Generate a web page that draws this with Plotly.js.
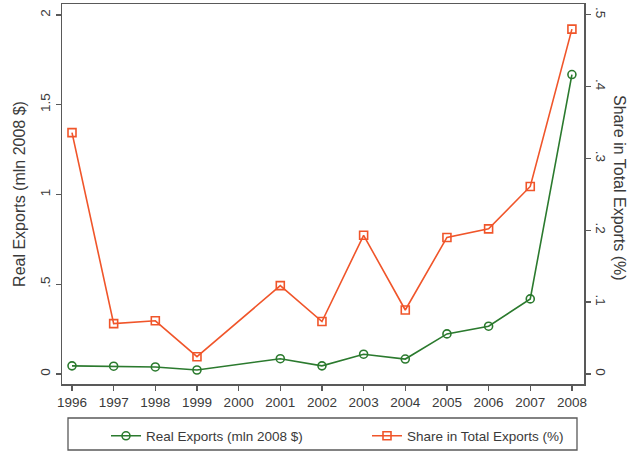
<!DOCTYPE html>
<html>
<head>
<meta charset="utf-8">
<script src="https://cdn.plot.ly/plotly-3.0.1.min.js"></script>
<style>
  html, body { margin: 0; padding: 0; background: #fff; }
  #chart { width: 629px; height: 451px; }
</style>
</head>
<body>
<div id="chart"></div>
<script>
// Years with observations (no data for 2000; the lines join 1999 to 2001)
const years = [1996, 1997, 1998, 1999, 2001, 2002, 2003, 2004, 2005, 2006, 2007, 2008];

// Real exports, millions of 2008 dollars (left axis)
const realExports = [0.045, 0.043, 0.039, 0.022, 0.085, 0.045, 0.110, 0.083, 0.223, 0.266, 0.418, 1.668];

// Share in total exports, percent (right axis)
const shareTotal = [0.336, 0.070, 0.074, 0.024, 0.123, 0.073, 0.193, 0.089, 0.190, 0.202, 0.261, 0.480];

// Axis ticks
const xTicks = [1996, 1997, 1998, 1999, 2000, 2001, 2002, 2003, 2004, 2005, 2006, 2007, 2008];
const yTickVals = [0, 0.5, 1, 1.5, 2];
const yTickText = ["0", ".5", "1", "1.5", "2"];
const y2TickVals = [0, 0.1, 0.2, 0.3, 0.4, 0.5];
const y2TickText = ["0", ".1", ".2", ".3", ".4", ".5"];

const green = "#2b7a2e";
const orange = "#f0552a";
const axisColor = "#595959";
const textColor = "#3a3a3a";
const font = "Liberation Sans, Arial, sans-serif";

const traces = [
  {
    x: years, y: realExports, yaxis: "y",
    type: "scatter", mode: "lines+markers",
    name: "Real Exports (mln 2008 $)",
    line: { color: green, width: 1.6 },
    marker: { symbol: "circle-open", size: 8, color: green, line: { width: 1.6, color: green } }
  },
  {
    x: years, y: shareTotal, yaxis: "y2",
    type: "scatter", mode: "lines+markers",
    name: "Share in Total Exports (%)",
    line: { color: orange, width: 1.6 },
    marker: { symbol: "square-open", size: 8, color: orange, line: { width: 1.6, color: orange } }
  }
];

const axisCommon = {
  showgrid: false, zeroline: false,
  showline: true, linecolor: axisColor, linewidth: 1.5,
  ticks: "outside", ticklen: 5, tickwidth: 1.3, tickcolor: axisColor,
  tickfont: { family: font, size: 13.5, color: textColor }
};

const layout = {
  width: 629, height: 451,
  margin: { l: 62, r: 45, t: 4, b: 67, pad: 0, autoexpand: false },
  paper_bgcolor: "#ffffff", plot_bgcolor: "#ffffff",
  font: { family: font, color: textColor },
  showlegend: true,
  legend: {
    orientation: "h",
    xref: "container", yref: "container",
    x: 106 / 629, xanchor: "left", y: 1 - 436 / 451, yanchor: "middle",
    font: { family: font, size: 13.5, color: textColor },
    bgcolor: "rgba(0,0,0,0)", borderwidth: 0,
    entrywidth: 216, entrywidthmode: "pixels"
  },
  xaxis: Object.assign({}, axisCommon, {
    range: [1995.76, 2008.29],
    tickmode: "array", tickvals: xTicks, ticktext: xTicks.map(String),
    mirror: true
  }),
  yaxis: Object.assign({}, axisCommon, {
    range: [-0.056, 2.061],
    tickmode: "array", tickvals: yTickVals, ticktext: yTickText,
    tickangle: -90,
    mirror: false,
    title: { text: "Real Exports (mln 2008 $)", font: { family: font, size: 16, color: textColor }, standoff: 8 }
  }),
  yaxis2: Object.assign({}, axisCommon, {
    range: [-0.014, 0.515],
    overlaying: "y", side: "right",
    tickmode: "array", tickvals: y2TickVals, ticktext: y2TickText,
    tickangle: 90
  }),
  shapes: [
    // legend frame
    { type: "rect", xref: "paper", yref: "paper",
      x0: (68 - 62) / 522, x1: (577 - 62) / 522,
      y0: -(450 - 384) / 380, y1: -(418 - 384) / 380,
      line: { color: axisColor, width: 1.3 }, fillcolor: "rgba(0,0,0,0)" }
  ],
  annotations: [
    { text: "Share in Total Exports (%)", xref: "paper", yref: "paper",
      x: (619 - 62) / 522, y: (384 - 188) / 380, xanchor: "center", yanchor: "middle",
      textangle: 90, showarrow: false,
      font: { family: font, size: 16, color: textColor } }
  ]
};

Plotly.newPlot("chart", traces, layout, { displayModeBar: false, staticPlot: true });
</script>
</body>
</html>
